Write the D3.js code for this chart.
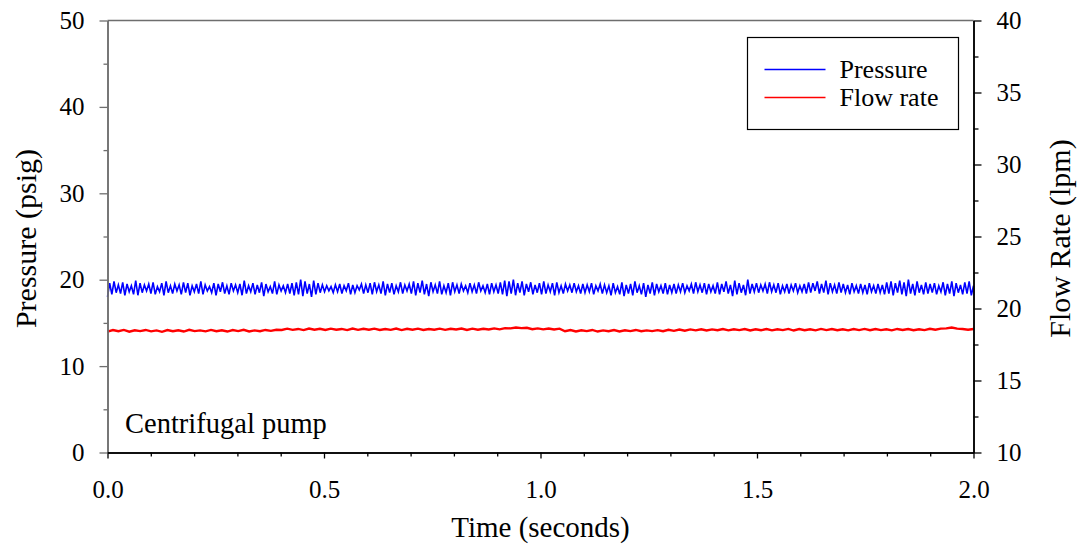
<!DOCTYPE html>
<html>
<head>
<meta charset="utf-8">
<script src="https://cdn.jsdelivr.net/npm/d3@7"></script>
</head>
<body style="margin:0">
<script>
// pressure readings (psig), 400 samples evenly spread over 0..2 s
const pressure = [
  18.0,19.6,18.3,19.8,18.5,19.4,18.4,19.7,18.2,19.5,18.6,19.3,18.3,19.9,18.2,19.6,18.5,19.4,18.7,19.5,
  18.4,19.7,18.3,19.2,18.6,19.6,18.2,19.8,18.5,19.3,18.4,19.5,18.7,19.4,18.3,19.7,18.5,19.6,18.2,19.3,
  18.6,19.5,18.4,19.8,18.3,19.4,18.7,19.2,18.5,19.6,18.2,19.5,18.6,19.7,18.4,19.3,18.3,19.6,18.7,19.4,
  18.5,19.5,18.2,19.9,18.4,19.3,18.6,19.6,18.3,19.4,18.5,19.7,18.1,19.5,18.6,19.2,18.4,19.8,18.3,19.4,
  18.7,19.3,18.5,19.5,18.4,19.6,18.2,19.7,18.3,20.0,18.1,19.8,18.4,19.5,18.0,19.9,18.3,19.6,18.5,19.4,
  18.6,19.3,18.7,19.2,18.5,19.4,18.6,19.5,18.4,19.3,18.7,19.6,18.3,19.4,18.5,19.3,18.8,19.5,18.4,19.4,
  18.5,19.6,18.3,19.7,18.6,19.4,18.4,19.8,18.2,19.5,18.5,19.6,18.3,19.3,18.6,19.7,18.4,19.4,18.7,19.5,
  18.4,19.8,18.2,19.6,18.5,19.9,18.3,19.5,18.1,19.7,18.6,19.4,18.4,19.8,18.3,19.3,18.5,19.6,18.2,19.7,
  18.6,19.4,18.4,19.5,18.7,19.3,18.5,19.6,18.6,19.4,18.4,19.7,18.7,19.3,18.5,19.5,18.3,19.6,18.6,19.4,
  18.4,19.7,18.3,19.9,18.1,19.8,18.4,20.0,18.2,19.6,18.5,19.8,18.2,19.5,18.6,19.7,18.3,19.4,18.5,19.6,
  18.3,19.8,18.4,19.4,18.6,19.6,18.2,19.7,18.5,19.3,18.4,19.5,18.7,19.4,18.5,19.6,18.6,19.3,18.4,19.5,
  18.5,19.4,18.6,19.6,18.3,19.3,18.7,19.5,18.4,19.4,18.5,19.3,18.2,19.6,18.5,19.2,18.3,19.7,18.1,19.4,
  18.4,19.5,18.2,19.8,18.5,19.3,18.3,19.6,18.0,19.4,18.4,19.7,18.2,19.5,18.6,19.3,18.4,19.6,18.3,19.4,
  18.5,19.5,18.4,19.4,18.6,19.6,18.5,19.3,18.7,19.5,18.4,19.7,18.6,19.4,18.5,19.6,18.3,19.5,18.6,19.3,
  18.4,19.7,18.3,19.5,18.6,19.8,18.4,19.4,18.1,19.9,18.3,19.6,18.5,19.4,18.2,20.0,18.4,19.5,18.6,19.6,
  18.5,19.4,18.7,19.5,18.4,19.7,18.6,19.4,18.5,19.6,18.3,19.3,18.6,19.5,18.4,19.4,18.7,19.6,18.5,19.3,
  18.6,19.5,18.4,19.7,18.5,19.6,18.7,19.8,18.4,19.5,18.5,19.9,18.3,19.6,18.6,19.4,18.4,19.7,18.5,19.5,
  18.5,19.4,18.3,19.6,18.6,19.3,18.4,19.5,18.5,19.4,18.3,19.6,18.6,19.3,18.4,19.5,18.5,19.4,18.3,19.7,
  18.4,19.8,18.2,19.6,18.5,19.9,18.3,19.7,18.1,20.0,18.4,19.5,18.2,19.8,18.5,19.4,18.3,19.7,18.4,19.5,
  18.5,19.6,18.3,19.3,18.6,19.7,18.2,19.5,18.4,19.8,18.1,19.6,18.5,19.4,18.3,19.7,18.4,19.8,18.2,19.3
];

// flow rate readings (lpm), 160 samples over 0..2 s
const flowRate = [
  18.40,18.50,18.42,18.51,18.39,18.49,18.43,18.51,18.41,18.48,18.38,18.50,18.42,18.49,18.40,18.52,18.43,18.48,18.41,18.51,
  18.42,18.49,18.40,18.50,18.43,18.52,18.41,18.48,18.42,18.51,18.45,18.52,18.51,18.60,18.52,18.58,18.50,18.61,18.53,18.59,
  18.51,18.60,18.53,18.58,18.50,18.61,18.52,18.59,18.53,18.60,18.51,18.58,18.52,18.61,18.50,18.59,18.53,18.60,18.51,18.58,
  18.53,18.60,18.52,18.59,18.54,18.61,18.51,18.60,18.53,18.59,18.54,18.62,18.55,18.64,18.62,18.68,18.64,18.66,18.56,18.62,
  18.55,18.61,18.54,18.60,18.42,18.50,18.41,18.49,18.43,18.51,18.40,18.48,18.42,18.50,18.41,18.49,18.43,18.51,18.42,18.48,
  18.43,18.50,18.42,18.52,18.45,18.54,18.46,18.55,18.48,18.56,18.47,18.55,18.49,18.57,18.48,18.56,18.50,18.57,18.47,18.56,
  18.49,18.57,18.48,18.56,18.50,18.58,18.47,18.57,18.49,18.56,18.48,18.58,18.50,18.57,18.49,18.56,18.48,18.57,18.50,18.58,
  18.49,18.57,18.50,18.56,18.48,18.58,18.51,18.57,18.49,18.56,18.50,18.59,18.53,18.60,18.62,18.68,18.60,18.58,18.53,18.58
];

const timeSpan = [0, 2];
const xMajorTicks = [0, 0.5, 1.0, 1.5, 2.0];
const xMinorTicks = [0.1, 0.2, 0.3, 0.4, 0.6, 0.7, 0.8, 0.9, 1.1, 1.2, 1.3, 1.4, 1.6, 1.7, 1.8, 1.9];
const pressureTicks = [0, 10, 20, 30, 40, 50];
const pressureMinor = [5, 15, 25, 35, 45];
const flowTicks = [10, 15, 20, 25, 30, 35, 40];
const flowMinor = [12.5, 17.5, 22.5, 27.5, 32.5, 37.5];

const seriesNames = ["Pressure", "Flow rate"];
const seriesColors = ["#0000ff", "#ff0000"];

const width = 1084, height = 546;
const plot = {left: 107.5, right: 973.5, top: 20.5, bottom: 452.5};
const fontFace = "Liberation Serif";

const svg = d3.select("body").append("svg")
    .attr("width", width)
    .attr("height", height);

const xScale = d3.scaleLinear().domain(timeSpan).range([plot.left, plot.right]);
const yPressure = d3.scaleLinear().domain([0, 50]).range([plot.bottom, plot.top]);
const yFlow = d3.scaleLinear().domain([10, 40]).range([plot.bottom, plot.top]);

// series lines
const pressurePts = pressure.map((v, i) => [timeSpan[1] * i / (pressure.length - 1), v]);
const flowPts = flowRate.map((v, i) => [timeSpan[1] * i / (flowRate.length - 1), v]);

svg.append("path")
    .datum(flowPts)
    .attr("fill", "none")
    .attr("stroke", seriesColors[1])
    .attr("stroke-width", 2.4)
    .attr("d", d3.line().x(d => xScale(d[0])).y(d => yFlow(d[1])));

svg.append("path")
    .datum(pressurePts)
    .attr("fill", "none")
    .attr("stroke", seriesColors[0])
    .attr("stroke-width", 1.6)
    .attr("d", d3.line().x(d => xScale(d[0])).y(d => yPressure(d[1])));

// axes: replace d3's default sans-serif 10px with the serif face
const styleAxis = (g, color) => {
    g.attr("font-family", null).attr("font-size", null);
    g.select(".domain").attr("stroke", color).attr("stroke-width", 1.5);
    g.selectAll(".tick line").attr("stroke", color).attr("stroke-width", 1.3);
    g.selectAll("text")
        .attr("fill", "#000")
        .attr("font-family", fontFace)
        .attr("font-size", 25);
};

// top frame line
svg.append("line")
    .attr("x1", plot.left).attr("x2", plot.right)
    .attr("y1", plot.top).attr("y2", plot.top)
    .attr("stroke", "#6e6e6e").attr("stroke-width", 1.5);

svg.append("g")
    .attr("transform", `translate(${plot.left},0)`)
    .call(d3.axisLeft(yPressure).tickValues(pressureMinor).tickSize(4).tickSizeOuter(0).tickFormat(""))
    .call(g => styleAxis(g, "#6e6e6e"));
svg.append("g")
    .attr("transform", `translate(${plot.left},0)`)
    .call(d3.axisLeft(yPressure).tickValues(pressureTicks).tickSize(8).tickSizeOuter(0).tickPadding(15).tickFormat(d3.format("d")))
    .call(g => styleAxis(g, "#6e6e6e"));

svg.append("g")
    .attr("transform", `translate(${plot.right},0)`)
    .call(d3.axisRight(yFlow).tickValues(flowMinor).tickSize(5).tickSizeOuter(0).tickFormat(""))
    .call(g => styleAxis(g, "#000"));
svg.append("g")
    .attr("transform", `translate(${plot.right},0)`)
    .call(d3.axisRight(yFlow).tickValues(flowTicks).tickSize(8).tickSizeOuter(0).tickPadding(15).tickFormat(d3.format("d")))
    .call(g => styleAxis(g, "#000"));

svg.append("g")
    .attr("transform", `translate(0,${plot.bottom})`)
    .call(d3.axisBottom(xScale).tickValues(xMinorTicks).tickSize(4).tickSizeOuter(0).tickFormat(""))
    .call(g => styleAxis(g, "#000"));
svg.append("g")
    .attr("transform", `translate(0,${plot.bottom})`)
    .call(d3.axisBottom(xScale).tickValues(xMajorTicks).tickSize(6).tickSizeOuter(0).tickPadding(22).tickFormat(d3.format(".1f")))
    .call(g => styleAxis(g, "#000"));

// plain labels
const addText = (str, size, x, y, anchor, rotate) => {
    const t = svg.append("text")
        .attr("font-family", fontFace)
        .attr("font-size", size)
        .attr("fill", "#000")
        .attr("text-anchor", anchor)
        .text(str);
    if (rotate) t.attr("transform", `translate(${x},${y}) rotate(${rotate})`);
    else t.attr("x", x).attr("y", y);
};

addText("Time (seconds)", 29, (plot.left + plot.right) / 2, 537, "middle");
addText("Pressure (psig)", 30, 36, (plot.top + plot.bottom) / 2 + 2, "middle", -90);
addText("Flow Rate (lpm)", 30, 1070, (plot.top + plot.bottom) / 2 + 2, "middle", -90);
addText("Centrifugal pump", 28.5, 125, 433, "start");

// legend
const legend = svg.append("g").attr("transform", "translate(747.5,37.5)");
legend.append("rect")
    .attr("width", 211).attr("height", 92)
    .attr("fill", "#fff").attr("stroke", "#000").attr("stroke-width", 1.2);
seriesNames.forEach((name, i) => {
    const y = 32 + i * 28;
    legend.append("line")
        .attr("x1", 17).attr("x2", 78)
        .attr("y1", y).attr("y2", y)
        .attr("stroke", seriesColors[i]).attr("stroke-width", 1.6);
    legend.append("text")
        .attr("x", 92).attr("y", y + 8)
        .attr("font-family", fontFace)
        .attr("font-size", 26)
        .attr("fill", "#000")
        .text(name);
});
</script>
</body>
</html>
